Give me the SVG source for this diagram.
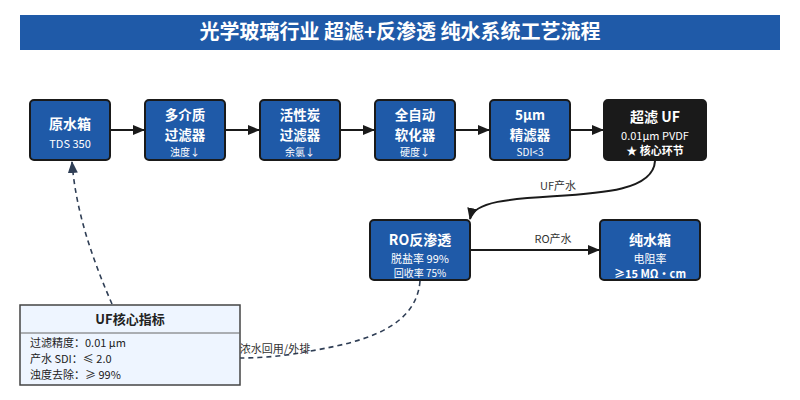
<svg xmlns="http://www.w3.org/2000/svg" width="800" height="400" viewBox="0 0 800 400">
<style>
text{font-family:"Noto Sans CJK SC","Noto Sans",sans-serif}
.node{fill:#1f5aa8;stroke:#1a1a1a;stroke-width:2}
.dark{fill:#1a1a1a;stroke:#1a1a1a;stroke-width:2}
.t{fill:#fff;font-size:14px;font-weight:bold;text-anchor:middle}
.t2{fill:#fff;font-size:13.5px;font-weight:bold;text-anchor:middle}
.s{fill:#fff;font-size:11px;text-anchor:middle}
.xs{fill:#fff;font-size:10px;text-anchor:middle}
.flow{fill:none;stroke:#1a1a1a;stroke-width:2}
.dash{fill:none;stroke:#2f3e55;stroke-width:1.6;stroke-dasharray:5,4}
.lbl{fill:#333;font-size:11px;text-anchor:middle}
.lg{fill:#222;font-size:11px}
</style>
<defs>
<marker id="ah" viewBox="0 0 12 10" refX="11" refY="5" markerWidth="12" markerHeight="10" markerUnits="userSpaceOnUse" orient="auto"><path d="M0,0 L12,5 L0,10 Z" fill="#1a1a1a"/></marker>
<marker id="ahd" viewBox="0 0 12 10" refX="11" refY="5" markerWidth="12" markerHeight="10" markerUnits="userSpaceOnUse" orient="auto"><path d="M0,0 L12,5 L0,10 Z" fill="#2f3e55"/></marker>
</defs>
<rect x="20" y="15" width="760" height="35" fill="#1f5aa8"/>
<text x="400" y="39" fill="#fff" font-size="20" font-weight="bold" text-anchor="middle">光学玻璃行业 超滤+反渗透 纯水系统工艺流程</text>
<g id="connectors">
<line class="flow" x1="111" y1="130" x2="144" y2="130" marker-end="url(#ah)"/>
<line class="flow" x1="226" y1="130" x2="259" y2="130" marker-end="url(#ah)"/>
<line class="flow" x1="341" y1="130" x2="374" y2="130" marker-end="url(#ah)"/>
<line class="flow" x1="456" y1="130" x2="489" y2="130" marker-end="url(#ah)"/>
<line class="flow" x1="571" y1="130" x2="603" y2="130" marker-end="url(#ah)"/>
<path class="flow" d="M655,161 C652,215 478,180 470,219" marker-end="url(#ah)"/>
<text class="lbl" x="558" y="190">UF产水</text>
<line class="flow" x1="471" y1="250" x2="599" y2="250" marker-end="url(#ah)"/>
<text class="lbl" x="553" y="243">RO产水</text>
<path class="dash" d="M112,304 C95,265 76,215 72,162" marker-end="url(#ahd)"/>
<path class="dash" d="M420,281 C416,333 350,344 305,352 C285,356 262,358 240,358"/>
<text class="lbl" x="275" y="353" fill="#2f3e55">浓水回用/外排</text>
</g>
<g id="n1"><rect class="node" x="30" y="100" width="80" height="60" rx="4"/><text class="t" x="70" y="129">原水箱</text><text class="s" x="70" y="148">TDS 350</text></g>
<g id="n2"><rect class="node" x="145" y="100" width="80" height="60" rx="4"/><text class="t2" x="185" y="120">多介质</text><text class="t2" x="185" y="140">过滤器</text><text class="xs" x="185" y="156">浊度↓</text></g>
<g id="n3"><rect class="node" x="260" y="100" width="80" height="60" rx="4"/><text class="t2" x="300" y="120">活性炭</text><text class="t2" x="300" y="140">过滤器</text><text class="xs" x="300" y="156">余氯↓</text></g>
<g id="n4"><rect class="node" x="375" y="100" width="80" height="60" rx="4"/><text class="t2" x="415" y="120">全自动</text><text class="t2" x="415" y="140">软化器</text><text class="xs" x="415" y="156">硬度↓</text></g>
<g id="n5"><rect class="node" x="490" y="100" width="80" height="60" rx="4"/><text class="t2" x="530" y="120">5μm</text><text class="t2" x="530" y="140">精滤器</text><text class="xs" x="530" y="156">SDI&lt;3</text></g>
<g id="n6"><rect class="dark" x="604" y="100" width="102" height="60" rx="4"/><text class="t" x="655" y="122" font-size="15">超滤 UF</text><text class="s" x="655" y="140">0.01μm PVDF</text><text class="s" x="655" y="155" font-weight="bold">★ 核心环节</text></g>
<g id="n7"><rect class="node" x="370" y="220" width="100" height="60" rx="4"/><text class="t" x="420" y="245">RO反渗透</text><text class="s" x="420" y="263">脱盐率 99%</text><text class="xs" x="420" y="277">回收率 75%</text></g>
<g id="n8"><rect class="node" x="600" y="220" width="100" height="60" rx="4"/><text class="t" x="650" y="245">纯水箱</text><text class="s" x="650" y="263">电阻率</text><text class="s" x="650" y="278" font-weight="bold">≥15 MΩ・cm</text></g>
<g id="legend">
<rect x="20" y="305" width="220" height="80" fill="#eef5ff" stroke="#444" stroke-width="1.5"/>
<line x1="20" y1="333" x2="240" y2="333" stroke="#666" stroke-width="1"/>
<text x="130" y="324" fill="#222" font-size="13" font-weight="bold" text-anchor="middle">UF核心指标</text>
<text class="lg" x="30" y="347">过滤精度：0.01 μm</text>
<text class="lg" x="30" y="363">产水 SDI：≤ 2.0</text>
<text class="lg" x="30" y="379">浊度去除：≥ 99%</text>
</g>
</svg>
